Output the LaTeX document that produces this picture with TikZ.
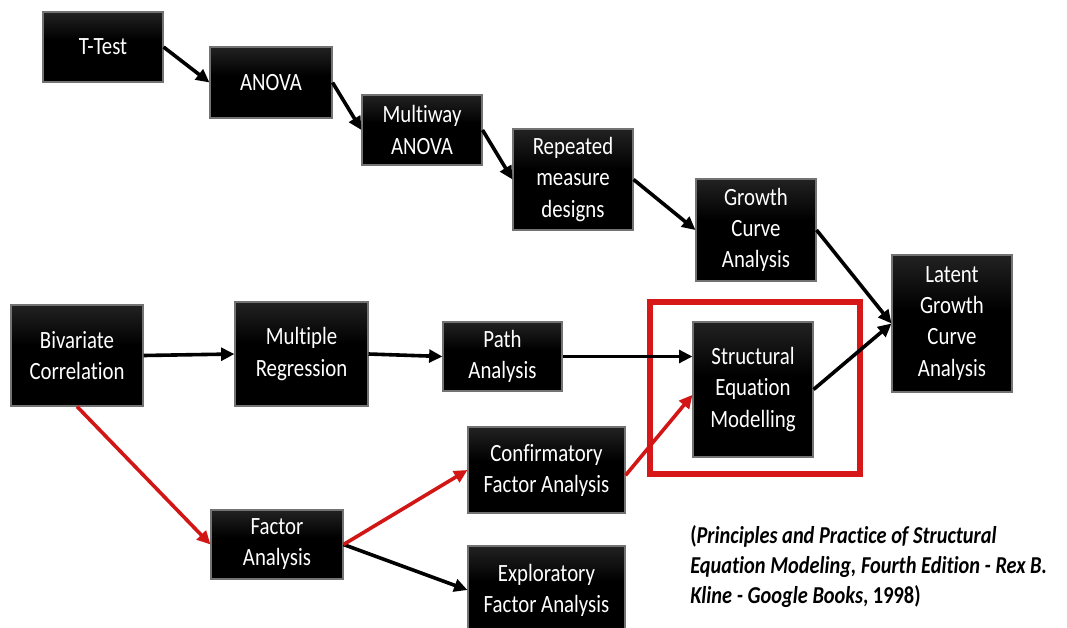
\documentclass[tikz,border=0pt]{standalone}
\usepackage{fontspec}
\setmainfont{Carlito}[FakeStretch=0.84, Ligatures={NoCommon}]
\usetikzlibrary{arrows.meta}

\definecolor{pathred}{RGB}{210,22,22}
\definecolor{framered}{RGB}{214,24,24}
\pgfdeclareverticalshading{boxshade}{100bp}{color(0bp)=(black); color(55bp)=(black); color(100bp)=(black!70)}

\tikzset{
  box/.style={shading=boxshade, draw=black!55, line width=0.8pt, text=white,
    align=center, inner sep=2pt, font=\fontsize{18.6}{23.3}\selectfont},
  bx/.style 2 args={minimum width=#1*0.75pt, minimum height=#2*0.75pt},
  link/.style={line width=2.7pt, -{Triangle[length=10pt, width=9.5pt]}},
  redlink/.style={link, draw=pathred, -{Triangle[length=10pt, width=9.5pt, fill=pathred]}},
}

\begin{document}
\begin{tikzpicture}[x=0.75pt, y=-0.75pt]
  \clip (0,0) rectangle (1067,628);
  \fill[white] (0,0) rectangle (1067,628);

  % comparison of means chain
  \node[box, bx={120}{70}]  (tt)     at (103,47)    {T-Test};
  \node[box, bx={122}{71}]  (anova)  at (271,82.5)  {ANOVA};
  \node[box, bx={120}{70}]  (multi)  at (422,130)   {Multiway\\ANOVA};
  \node[box, bx={120}{101}] (rep)    at (573,179.5) {Repeated\\measure\\designs};
  \node[box, bx={120}{102}] (growth) at (756,230)   {Growth\\Curve\\Analysis};
  \node[box, bx={120}{137}] (latent) at (952,323.5) {Latent\\Growth\\Curve\\Analysis};

  % correlation chain
  \node[box, bx={132}{101}] (biv)    at (77,355.5)  {Bivariate\\Correlation};
  \node[box, bx={133}{104}] (mreg)   at (301.5,354) {Multiple\\Regression};
  \node[box, bx={119}{69}]  (path)   at (502.5,356.5) {Path\\Analysis};
  \node[box, bx={120}{135}] (sem)    at (753,389.5) {Structural\\Equation\\Modelling};

  % factor analysis branch
  \node[box, bx={132}{69}]  (fa)     at (277,544.5) {Factor\\Analysis};
  \node[box, bx={157}{86}]  (cfa)    at (546.5,470) {Confirmatory\\Factor Analysis};
  \node[box, bx={157}{88}]  (efa)    at (546.5,590) {Exploratory\\Factor Analysis};

  % highlight around SEM
  \node[draw=framered, line width=4.6pt, minimum width=210*0.75pt,
        minimum height=172*0.75pt, inner sep=0pt] (frame) at (755,388) {};

  % black connectors
  \draw[link] (tt.east) -- (anova.west);
  \draw[link] (anova.east) -- (multi.west);
  \draw[link] (multi.east) -- (rep.west);
  \draw[link] (rep.east) -- (growth.west);
  \draw[link] (growth.east) -- (latent.west);
  \draw[link] (sem.east) -- (latent.west);
  \draw[link] (biv.east) -- (mreg.west);
  \draw[link] (mreg.east) -- (path.west);
  \draw[link] (path.east) -- (path.east -| sem.west);
  \draw[link] (fa.east) -- (efa.west);

  % red connectors
  \draw[redlink] (biv.south) -- (fa.west);
  \draw[redlink] (fa.east) -- (cfa.west);
  \draw[redlink] ([yshift=-4pt]cfa.east) -- ([yshift=-4pt]sem.west);

  % reference
  \node[anchor=north west, align=left, inner sep=0pt,
        font=\bfseries\fontsize{18.2}{22.5}\selectfont] (ref) at (690,525)
    {(\textit{Principles and Practice of Structural}\\
     \textit{Equation Modeling, Fourth Edition - Rex B.}\\
     \textit{Kline - Google Books}, 1998)};
\end{tikzpicture}
\end{document}
